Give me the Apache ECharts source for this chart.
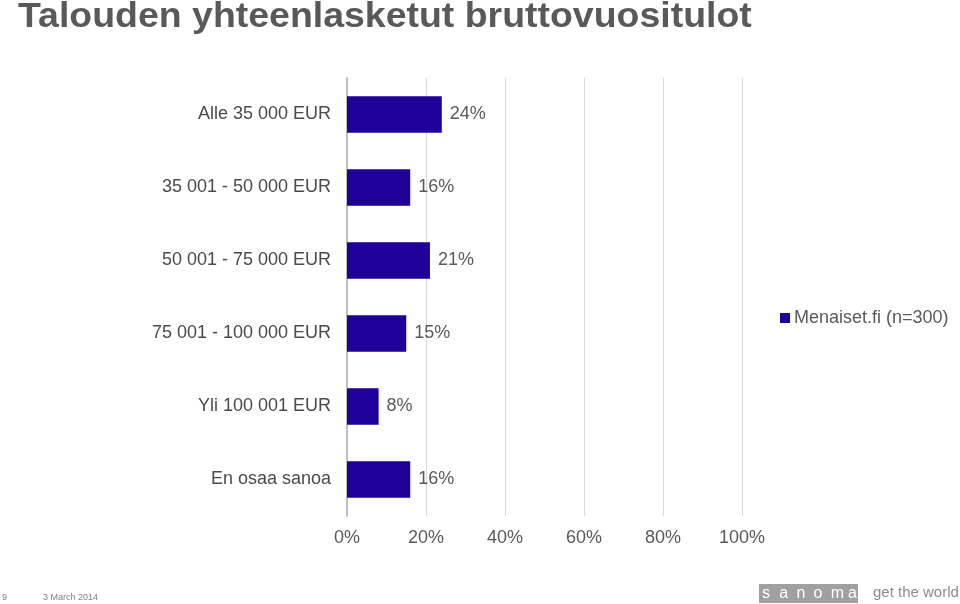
<!DOCTYPE html>
<html>
<head>
<meta charset="utf-8">
<script src="https://cdn.jsdelivr.net/npm/echarts@6/dist/echarts.min.js"></script>
<style>html,body{margin:0;padding:0;background:#fff}#c{width:960px;height:604px}</style>
</head>
<body>
<div id="c"></div>
<script>
const categories = ["Alle 35 000 EUR", "35 001 - 50 000 EUR", "50 001 - 75 000 EUR", "75 001 - 100 000 EUR", "Yli 100 001 EUR", "En osaa sanoa"];
const values = [24, 16, 21, 15, 8, 16];
const seriesName = "Menaiset.fi (n=300)";
const xTicks = [0, 20, 40, 60, 80, 100];
const titleText = "Talouden yhteenlasketut bruttovuositulot";
const logoLetters = ["s", "a", "n", "o", "m", "a"];

const FONT = 'Liberation Sans, Arial, sans-serif';
const chart = echarts.init(document.getElementById('c'));
const logo = logoLetters.map((ch, i) => ({
  type: 'text', x: 762 + i * 17.2, y: 594, z: 10,
  style: { text: ch, fontSize: 16, fill: '#ffffff', fontFamily: FONT, verticalAlign: 'middle' }
}));
chart.setOption({
  animation: false,
  textStyle: { fontFamily: FONT },
  legend: {
    data: [seriesName], left: 775, top: 304, itemWidth: 10, itemHeight: 10, itemGap: 4,
    icon: 'rect',
    textStyle: { fontSize: 18, color: '#595959', padding: [0, 0, 0, -1] }
  },
  grid: { left: 347, width: 395, top: 78, height: 438 },
  xAxis: {
    type: 'value', min: 0, max: 100, interval: 20,
    axisLine: { show: false }, axisTick: { show: false },
    splitLine: { lineStyle: { color: '#d9d9d9', width: 1 } },
    axisLabel: { fontSize: 18, color: '#595959', margin: 13, formatter: v => xTicks.includes(v) ? v + '%' : '' }
  },
  yAxis: {
    type: 'category', data: categories, inverse: true,
    axisLine: { show: true, lineStyle: { color: '#bfbfbf', width: 2 } },
    axisTick: { show: false },
    axisLabel: { fontSize: 18, color: '#4a4a4a', margin: 16 }
  },
  series: [{
    name: seriesName, type: 'bar', data: values, barWidth: '50%',
    itemStyle: { color: '#1f0099' },
    label: { show: true, position: 'right', distance: 8, fontSize: 18, color: '#595959', formatter: p => p.value + '%' }
  }],
  graphic: [
    { type: 'text', x: 18, y: 17.5, scaleX: 1.07, style: { text: titleText, fontSize: 35, fontWeight: 'bold', fill: '#595959', fontFamily: FONT, verticalAlign: 'middle' } },
    { type: 'text', left: 2, top: 593, style: { text: '9', fontSize: 9, fill: '#7f7f7f', fontFamily: FONT } },
    { type: 'text', left: 43, top: 593, style: { text: '3 March 2014', fontSize: 9, fill: '#7f7f7f', fontFamily: FONT } },
    { type: 'rect', shape: { x: 759, y: 584, width: 99, height: 19 }, style: { fill: '#a0a0a0' } },
    ...logo,
    { type: 'text', left: 873, top: 585, style: { text: 'get the world', fontSize: 15, fill: '#8c8c8c', fontFamily: FONT } }
  ]
});
</script>
</body>
</html>
